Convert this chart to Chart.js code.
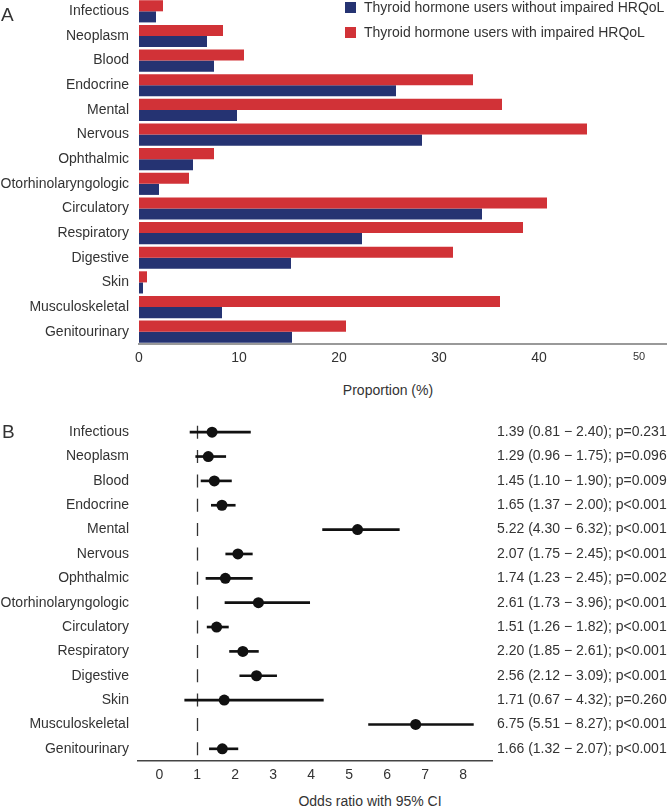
<!DOCTYPE html>
<html>
<head>
<meta charset="utf-8">
<script src="https://cdn.jsdelivr.net/npm/chart.js@4.4.0/dist/chart.umd.min.js"></script>
<style>
  body { margin: 0; background: #fff; }
  #page { position: relative; width: 667px; height: 810px; overflow: hidden; font-family: "Liberation Sans", Arial, sans-serif; color: #333; }
  canvas, .txt { position: absolute; }
  .panel { font-size: 19px; }
  .title { font-size: 14px; line-height: 16px; white-space: nowrap; transform: translateX(-50%); }
  .leg { position: absolute; left: 345px; font-size: 14px; line-height: 16px; white-space: nowrap; }
  .leg span { display: inline-block; width: 11px; height: 11px; margin-right: 8px; vertical-align: -1px; }
</style>
</head>
<body>
<div id="page">
  <canvas id="chartA" width="667" height="370" style="left:0;top:-1px"></canvas>
  <canvas id="chartB" width="667" height="386" style="left:0;top:400px"></canvas>
  <div class="txt panel" style="left:1px;top:4px">A</div>
  <div class="txt panel" style="left:2px;top:421px">B</div>
  <div class="txt title" style="left:388px;top:382px">Proportion (%)</div>
  <div class="txt title" style="left:370px;top:793px">Odds ratio with 95% CI</div>
  <div id="legend"></div>
</div>
<script>
const categories = ['Infectious', 'Neoplasm', 'Blood', 'Endocrine', 'Mental', 'Nervous', 'Ophthalmic',
  'Otorhinolaryngologic', 'Circulatory', 'Respiratory', 'Digestive', 'Skin', 'Musculoskeletal', 'Genitourinary'];

// panel A: proportion (%) per group
const withoutImpaired = [1.7, 6.8, 7.5, 25.7, 9.8, 28.3, 5.4, 2.0, 34.3, 22.3, 15.2, 0.4, 8.3, 15.3];
const withImpaired = [2.4, 8.4, 10.5, 33.4, 36.3, 44.8, 7.5, 5.0, 40.8, 38.4, 31.4, 0.8, 36.1, 20.7];
const proportionTicks = [0, 10, 20, 30, 40, 50];

// panel B: odds ratios with 95% CI
const oddsRatio = [1.39, 1.29, 1.45, 1.65, 5.22, 2.07, 1.74, 2.61, 1.51, 2.20, 2.56, 1.71, 6.75, 1.66];
const ciLow = [0.81, 0.96, 1.10, 1.37, 4.30, 1.75, 1.23, 1.73, 1.26, 1.85, 2.12, 0.67, 5.51, 1.32];
const ciHigh = [2.40, 1.75, 1.90, 2.00, 6.32, 2.45, 2.45, 3.96, 1.82, 2.61, 3.09, 4.32, 8.27, 2.07];
const pValues = ['=0.231', '=0.096', '=0.009', '<0.001', '<0.001', '<0.001', '=0.002',
  '<0.001', '<0.001', '<0.001', '<0.001', '=0.260', '<0.001', '<0.001'];
const oddsTicks = [0, 1, 2, 3, 4, 5, 6, 7, 8];

const RED = '#d13237';
const BLUE = '#253372';
const TEXT = '#333';

Chart.defaults.font.family = '"Liberation Sans", Arial, sans-serif';
Chart.defaults.font.size = 14;
Chart.defaults.color = TEXT;

// legend (blue first, like the original)
const legendItems = [
  { label: 'Thyroid hormone users without impaired HRQoL', color: BLUE },
  { label: 'Thyroid hormone users with impaired HRQoL', color: RED }
];
document.getElementById('legend').innerHTML = legendItems.map((it, i) =>
  `<div class="leg" style="top:${-1 + i * 25}px"><span style="background:${it.color}"></span>${it.label}</div>`
).join('');

// drop the extra room Chart.js keeps for half a label above/below the category axis
const tightY = width => s => { s.width = width; s.paddingTop = 0; s.paddingBottom = 0; };

new Chart(document.getElementById('chartA'), {
  type: 'bar',
  data: {
    labels: categories,
    datasets: [
      { label: legendItems[1].label, data: withImpaired, backgroundColor: RED },
      { label: legendItems[0].label, data: withoutImpaired, backgroundColor: BLUE }
    ]
  },
  options: {
    indexAxis: 'y',
    responsive: false,
    animation: false,
    datasets: { bar: { categoryPercentage: 0.9, barPercentage: 1.0 } },
    layout: { padding: 0 },
    plugins: { legend: { display: false }, tooltip: { enabled: false } },
    scales: {
      x: {
        min: 0, max: 52.8,
        grid: { display: false, drawTicks: false },
        border: { display: true, color: '#999', width: 2 },
        afterBuildTicks: s => { s.ticks = proportionTicks.map(v => ({ value: v })); },
        afterFit: s => { s.height = 25; s.paddingLeft = 0; s.paddingRight = 0; },
        ticks: {
          padding: 6,
          font: ctx => ({ size: ctx.tick && ctx.tick.value === 50 ? 11 : 14 })
        }
      },
      y: {
        grid: { display: false, drawTicks: false },
        border: { display: false },
        afterFit: tightY(139),
        ticks: { padding: 10, autoSkip: false }
      }
    }
  }
});

const statLabels = oddsRatio.map((v, i) =>
  `${v.toFixed(2)} (${ciLow[i].toFixed(2)} \u2212 ${ciHigh[i].toFixed(2)}); p${pValues[i]}`);

const refLine = {
  id: 'refLine',
  beforeDatasetsDraw(chart) {
    const { ctx, scales: { x, y } } = chart;
    const px = Math.round(x.getPixelForValue(1)) + 0.5;
    const pitch = y.getPixelForValue(1) - y.getPixelForValue(0);
    const top = y.getPixelForValue(0) - 6.5;
    const bottom = y.getPixelForValue(categories.length - 1) + 6.5;
    ctx.save();
    ctx.strokeStyle = '#333';
    ctx.lineWidth = 1.3;
    ctx.setLineDash([13, pitch - 13]);
    ctx.beginPath();
    ctx.moveTo(px, top);
    ctx.lineTo(px, bottom);
    ctx.stroke();
    ctx.restore();
  }
};

new Chart(document.getElementById('chartB'), {
  type: 'bar',
  data: {
    labels: categories,
    datasets: [
      {
        type: 'line',
        data: categories.map((c, i) => ({ x: oddsRatio[i], y: c })),
        showLine: false,
        pointRadius: 5.5,
        pointBackgroundColor: '#111',
        pointBorderWidth: 0,
        order: 1
      },
      {
        type: 'bar',
        data: categories.map((c, i) => [ciLow[i], ciHigh[i]]),
        backgroundColor: '#111',
        barThickness: 2,
        order: 2
      }
    ]
  },
  options: {
    indexAxis: 'y',
    responsive: false,
    animation: false,
    layout: { padding: { top: 20 } },
    plugins: { legend: { display: false }, tooltip: { enabled: false } },
    scales: {
      x: {
        type: 'linear',
        min: -0.56, max: 8.76,
        grid: { display: false, drawTicks: false },
        border: { display: true, color: '#444', width: 1.5 },
        afterBuildTicks: s => { s.ticks = oddsTicks.map(v => ({ value: v })); },
        afterFit: s => { s.height = 25; s.paddingLeft = 0; s.paddingRight = 0; },
        ticks: { padding: 6 }
      },
      y: {
        type: 'category',
        offset: true,
        grid: { display: false, drawTicks: false },
        border: { display: false },
        afterFit: tightY(138),
        ticks: { padding: 9, autoSkip: false }
      },
      y2: {
        type: 'category',
        labels: statLabels,
        position: 'right',
        offset: true,
        grid: { display: false, drawTicks: false },
        border: { display: false },
        afterFit: tightY(175),
        ticks: { padding: 5, autoSkip: false }
      }
    }
  },
  plugins: [refLine]
});
</script>
</body>
</html>
